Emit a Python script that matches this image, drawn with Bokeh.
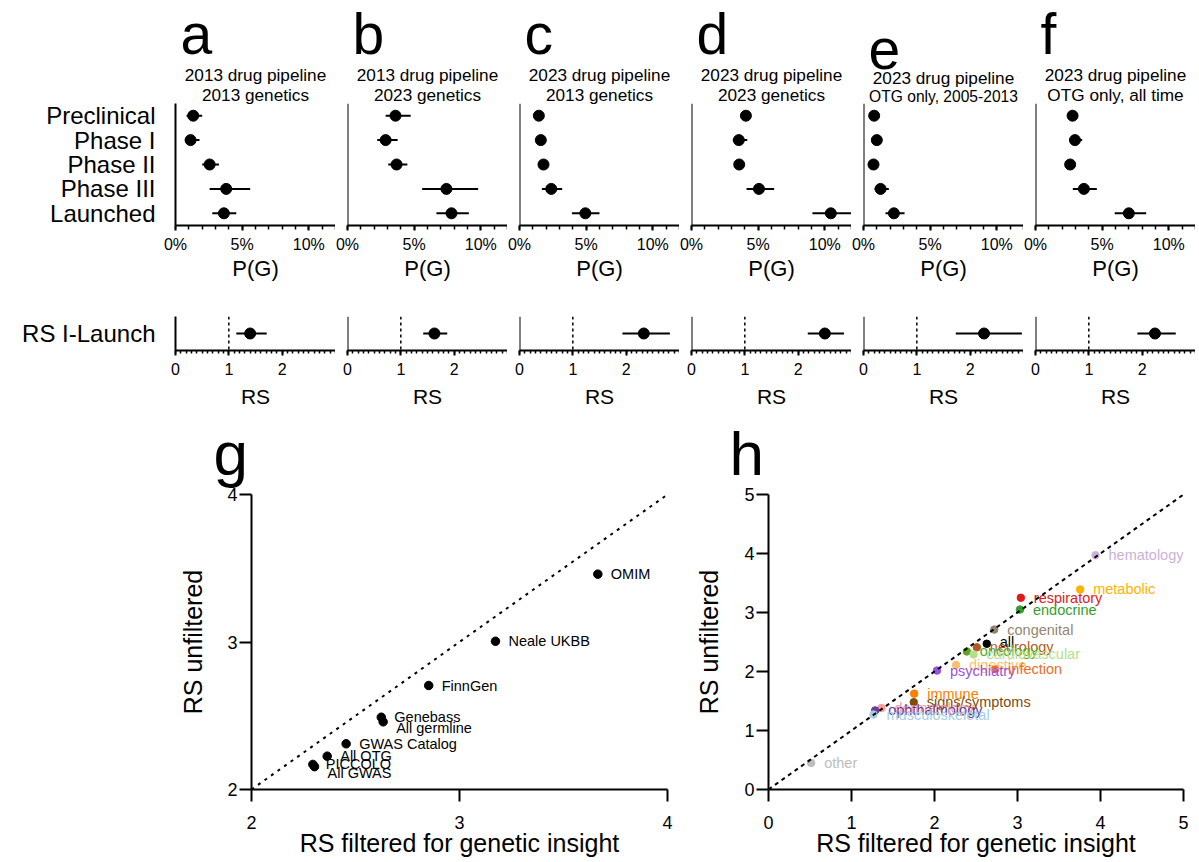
from bokeh.plotting import figure
from bokeh.models import (FactorRange, Range1d, FixedTicker, PrintfTickFormatter,
                          Span, Title, Slope, ColumnDataSource)
from bokeh.layouts import column, row
from bokeh.embed import file_html
from bokeh.resources import INLINE
from bokeh.core.properties import value

FONT = "Liberation Sans"

# ---------------- data ----------------
stages = ["Preclinical", "Phase I", "Phase II", "Phase III", "Launched"]
panel_letters = ["a", "b", "c", "d", "e", "f"]
title_line1 = ["2013 drug pipeline", "2013 drug pipeline", "2023 drug pipeline",
               "2023 drug pipeline", "2023 drug pipeline", "2023 drug pipeline"]
title_line2 = ["2013 genetics", "2023 genetics", "2013 genetics", "2023 genetics",
               "OTG only, 2005-2013", "OTG only, all time"]

# P(G), percent, in stage order
pg_a = [1.33, 1.13, 2.56, 3.80, 3.63]
pg_a_lo = [0.83, 0.75, 2.00, 2.56, 2.76]
pg_a_hi = [2.00, 1.80, 3.26, 5.60, 4.56]

pg_b = [3.60, 2.86, 3.68, 7.42, 7.80]
pg_b_lo = [2.86, 2.23, 3.06, 5.60, 6.67]
pg_b_hi = [4.74, 3.76, 4.49, 9.80, 9.10]

pg_c = [1.45, 1.60, 1.80, 2.38, 4.94]
pg_c_lo = [1.25, 1.40, 1.55, 1.68, 3.93]
pg_c_hi = [1.70, 1.85, 2.05, 3.20, 6.00]

pg_d = [4.08, 3.55, 3.58, 5.06, 10.45]
pg_d_lo = [3.75, 3.10, 3.25, 4.13, 9.07]
pg_d_hi = [4.40, 4.18, 3.90, 6.20, 11.98]

pg_e = [0.80, 1.00, 0.75, 1.28, 2.28]
pg_e_lo = [0.60, 0.78, 0.55, 0.83, 1.65]
pg_e_hi = [1.00, 1.25, 0.95, 1.90, 3.08]

pg_f = [2.78, 2.96, 2.60, 3.63, 7.00]
pg_f_lo = [2.50, 2.56, 2.35, 2.80, 5.94]
pg_f_hi = [3.05, 3.50, 2.85, 4.60, 8.30]

pg_tick_values = [0, 5, 10]

rs_category = ["RS I-Launch"]
rs_est = [1.40, 1.63, 2.33, 2.50, 2.26, 2.24]
rs_lo = [1.14, 1.42, 1.93, 2.18, 1.73, 1.91]
rs_hi = [1.71, 1.87, 2.82, 2.86, 2.97, 2.63]
rs_tick_values = [0, 1, 2]

g_sources = ["OMIM", "Neale UKBB", "FinnGen", "Genebass", "All germline",
             "GWAS Catalog", "All OTG", "PICCOLO", "All GWAS"]
g_filtered = [3.665, 3.173, 2.852, 2.624, 2.633, 2.455, 2.364, 2.295, 2.303]
g_unfiltered = [3.46, 3.005, 2.705, 2.49, 2.459, 2.31, 2.226, 2.17, 2.155]
g_ticks = [2, 3, 4]

h_areas = ["hematology", "metabolic", "respiratory", "endocrine", "congenital", "all",
           "neurology", "oncology", "cardiovascular", "digestive", "psychiatry",
           "infection", "immune", "signs/symptoms", "dermatology", "ophthalmology",
           "musculoskeletal", "other"]
h_filtered = [3.94, 3.755, 3.04, 3.03, 2.72, 2.63, 2.51, 2.39, 2.47, 2.26, 2.03,
              2.73, 1.755, 1.75, 1.36, 1.285, 1.265, 0.514]
h_unfiltered = [3.97, 3.39, 3.25, 3.05, 2.71, 2.47, 2.41, 2.34, 2.29, 2.11, 2.015,
                2.04, 1.625, 1.48, 1.38, 1.34, 1.27, 0.45]
h_ticks = [0, 1, 2, 3, 4, 5]

# ---------------- styles ----------------
h_colors = ["#cab2d6", "#ffb300", "#e31a1c", "#33a02c", "#938670", "#000000",
            "#b15928", "#5fa320", "#b2df8a", "#fdbf6f", "#9b51e0",
            "#e8702a", "#ff7f00", "#7f4c0a", "#fb9a99", "#6a3d9a",
            "#a6cee3", "#bdbdbd"]
h_label_dy = [0, 0, 0, 0, 0, -2, 0, 0, 0, 0, 0, 0, 0, 0, 0, 0, 0, 0]
g_label_dy = [0, 0, 0, 0, 6, 0, 0, 0, 6]

FRAME_W = 160
TOP_FRAME_H = 122
RS_FRAME_H = 34
FIRST_LEFT = 175
GAP_LEFT = 12


def clean(p):
    p.outline_line_color = None
    p.xgrid.visible = False
    p.ygrid.visible = False
    p.background_fill_color = "white"
    p.border_fill_color = "white"


def style_axis(ax, tick_size, label_size, tick_out, minor_out, tick_standoff, label_standoff, lw=2):
    ax.axis_line_width = lw
    ax.axis_line_color = "black"
    ax.major_tick_line_color = "black"
    ax.major_tick_line_width = lw
    ax.major_tick_out = tick_out
    ax.major_tick_in = 0
    ax.minor_tick_line_color = "black" if minor_out else None
    ax.minor_tick_line_width = 1.5
    ax.minor_tick_out = minor_out
    ax.minor_tick_in = 0
    ax.major_label_text_font = FONT
    ax.major_label_text_font_size = tick_size
    ax.major_label_text_color = "black"
    ax.major_label_standoff = tick_standoff
    ax.axis_label_text_font = FONT
    ax.axis_label_text_font_size = label_size
    ax.axis_label_text_font_style = "normal"
    ax.axis_label_text_color = "black"
    ax.axis_label_standoff = label_standoff


def style_cat_yaxis(p, first, size):
    if first:
        ax = p.yaxis[0]
        ax.axis_line_width = 2
        ax.axis_line_color = "black"
        ax.major_tick_line_color = None
        ax.minor_tick_line_color = None
        ax.major_tick_out = 0
        ax.major_label_standoff = 20
        ax.major_label_text_font = FONT
        ax.major_label_text_font_size = size
        ax.major_label_text_color = "black"
    else:
        p.yaxis.visible = False
        p.add_layout(Span(location=0, dimension="height", line_color="black", line_width=2))


def add_title(p, text, size, align="center", offset=0, standoff=0, valign="bottom"):
    p.add_layout(Title(text=text, text_font=FONT, text_font_size=size, text_font_style="normal",
                       text_color="black", align=align, offset=offset, standoff=standoff,
                       vertical_align=valign),
                 "above")


def top_panel(k, est, lo, hi):
    first = k == 0
    bl = FIRST_LEFT if first else GAP_LEFT
    p = figure(width=bl + FRAME_W, height=103 + TOP_FRAME_H + 64,
               x_range=Range1d(0, 12), y_range=FactorRange(factors=stages[::-1]),
               output_backend="svg", toolbar_location=None,
               min_border_left=bl, min_border_right=0, min_border_top=103, min_border_bottom=64)
    clean(p)
    src = ColumnDataSource(dict(stage=stages, est=est, lo=lo, hi=hi))
    p.segment(x0="lo", x1="hi", y0="stage", y1="stage", source=src,
              line_color="black", line_width=2)
    p.scatter(x="est", y="stage", source=src, size=11, color="black")
    ax = p.xaxis[0]
    ax.ticker = FixedTicker(ticks=pg_tick_values, minor_ticks=list(range(0, 13)))
    ax.formatter = PrintfTickFormatter(format="%d%%")
    ax.axis_label = "P(G)"
    style_axis(ax, "16px", "22px", 5, 4, 5, 0)
    style_cat_yaxis(p, first, "24px")
    # titles: added inner -> outer (long second line kept narrower than the frame)
    line2_size = "15.6px" if len(title_line2[k]) > 18 else "17.2px"
    add_title(p, title_line2[k], line2_size, standoff=-2)
    add_title(p, title_line1[k], "17.2px", standoff=-2)
    add_title(p, panel_letters[k], "57px", align="left", offset=5, standoff=-4)
    return p


def rs_panel(k):
    first = k == 0
    bl = FIRST_LEFT if first else GAP_LEFT
    p = figure(width=bl + FRAME_W, height=27 + RS_FRAME_H + 62,
               x_range=Range1d(0, 3), y_range=FactorRange(factors=rs_category),
               output_backend="svg", toolbar_location=None,
               min_border_left=bl, min_border_right=0, min_border_top=27, min_border_bottom=62)
    clean(p)
    p.add_layout(Span(location=1, dimension="height", line_color="black",
                      line_width=1.5, line_dash="3 3"))
    src = ColumnDataSource(dict(cat=rs_category, est=[rs_est[k]], lo=[rs_lo[k]], hi=[rs_hi[k]]))
    p.segment(x0="lo", x1="hi", y0="cat", y1="cat", source=src, line_color="black", line_width=2)
    p.scatter(x="est", y="cat", source=src, size=11, color="black")
    ax = p.xaxis[0]
    ax.ticker = FixedTicker(ticks=rs_tick_values, minor_ticks=[i / 10 for i in range(31)])
    ax.axis_label = "RS"
    style_axis(ax, "16px", "21px", 5, 3, 7, 7)
    style_cat_yaxis(p, first, "24px")
    return p


def scatter_axes(p, ticks, xlab, ylab, ylab_standoff):
    xa = p.xaxis[0]
    ya = p.yaxis[0]
    xa.ticker = FixedTicker(ticks=ticks, minor_ticks=[])
    ya.ticker = FixedTicker(ticks=ticks, minor_ticks=[])
    xa.axis_label = xlab
    ya.axis_label = ylab
    style_axis(xa, "18px", "25px", 12, 0, 14, -3)
    style_axis(ya, "18px", "25px", 12, 0, 2, ylab_standoff)


top_data = [(pg_a, pg_a_lo, pg_a_hi), (pg_b, pg_b_lo, pg_b_hi), (pg_c, pg_c_lo, pg_c_hi),
            (pg_d, pg_d_lo, pg_d_hi), (pg_e, pg_e_lo, pg_e_hi), (pg_f, pg_f_lo, pg_f_hi)]
top_row = row(*[top_panel(k, *d) for k, d in enumerate(top_data)])
rs_row = row(*[rs_panel(k) for k in range(6)])

BOT_TOP, BOT_FRAME_H, BOT_BOTTOM = 82, 295, 71

# ---- panel g ----
pg = figure(width=251 + 416 + 23, height=BOT_TOP + BOT_FRAME_H + BOT_BOTTOM,
            x_range=Range1d(2, 4), y_range=Range1d(2, 4),
            output_backend="svg", toolbar_location=None,
            min_border_left=251, min_border_right=23, min_border_top=BOT_TOP,
            min_border_bottom=BOT_BOTTOM)
clean(pg)
pg.add_layout(Slope(gradient=1, y_intercept=0, line_color="black", line_width=2, line_dash="3 5"))
g_src = ColumnDataSource(dict(x=g_filtered, y=g_unfiltered, name=g_sources, dy=g_label_dy))
pg.scatter("x", "y", source=g_src, size=8.5, color="black")
pg.text("x", "y", text="name", source=g_src, x_offset=13, y_offset="dy",
        text_align="left", text_baseline="middle", text_font=value(FONT),
        text_font_size="14.5px", text_color="black")
scatter_axes(pg, g_ticks, "RS filtered for genetic insight", "RS unfiltered", 17)
add_title(pg, "g", "62px", align="left", offset=-38, standoff=10, valign="top")

# ---- panel h ----
ph = figure(width=78 + 415 + 8, height=BOT_TOP + BOT_FRAME_H + BOT_BOTTOM,
            x_range=Range1d(0, 5), y_range=Range1d(0, 5),
            output_backend="svg", toolbar_location=None,
            min_border_left=78, min_border_right=8, min_border_top=BOT_TOP,
            min_border_bottom=BOT_BOTTOM)
clean(ph)
ph.add_layout(Slope(gradient=1, y_intercept=0, line_color="black", line_width=2, line_dash="4 4"))
h_src = ColumnDataSource(dict(x=h_filtered, y=h_unfiltered, name=h_areas,
                              color=h_colors, dy=h_label_dy))
ph.scatter("x", "y", source=h_src, size=7.5, color="color")
ph.text("x", "y", text="name", source=h_src, x_offset=13, y_offset="dy",
        text_align="left", text_baseline="middle", text_font=value(FONT),
        text_font_size="14.5px", text_color="color")
scatter_axes(ph, h_ticks, "RS filtered for genetic insight", "RS unfiltered", 18)
add_title(ph, "h", "62px", align="left", offset=-39, standoff=10, valign="top")

layout = column(top_row, rs_row, row(pg, ph))
open("out.html", "w").write(file_html(layout, INLINE))
